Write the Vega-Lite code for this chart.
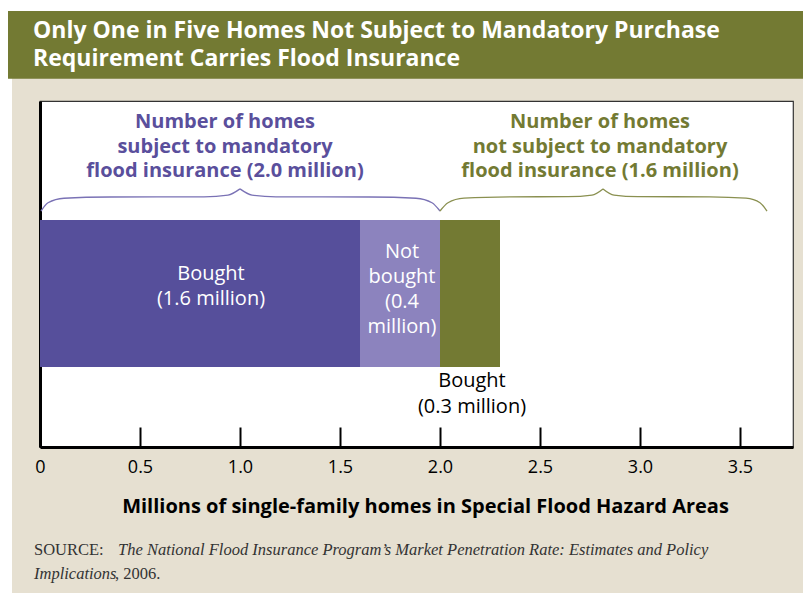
{
  "$schema": "https://vega.github.io/schema/vega-lite/v6.json",
  "width": 753,
  "height": 346,
  "autosize": {"type": "none"},
  "padding": {"left": 40, "top": 101, "right": 10, "bottom": 146},
  "background": "#e6e0d1",
  "config": {
    "view": {"stroke": "#333333", "strokeWidth": 1.2, "fill": "white"},
    "font": "Open Sans",
    "text": {"lineBreak": "\n"},
    "axisX": {"domainColor": "black", "domainWidth": 3, "tickColor": "black", "tickWidth": 2, "tickSize": -20,
      "labelFontSize": 18, "labelColor": "black", "labelPadding": 31, "labelFont": "Open Sans", "labelFlush": false,
      "titleFontSize": 20, "titleFontWeight": "bold", "titleColor": "black", "titlePadding": 20, "titleFont": "Open Sans",
      "titleX": 385, "grid": false, "zindex": 2},
    "axisY": {"labels": false, "ticks": false, "grid": false, "domainColor": "black", "domainWidth": 3, "zindex": 2}
  },
  "layer": [
    {
      "data": {"values": [
        {"part": "top strip", "x0": -0.2, "x1": 3.815, "y0": 126.0, "y1": 129.5},
        {"part": "left strip", "x0": -0.2, "x1": -0.14, "y0": -42.5, "y1": 129.5}
      ]},
      "mark": {"type": "rect", "fill": "white", "clip": false},
      "encoding": {
        "x": {"field": "x0", "type": "quantitative", "scale": {"domain": [0, 3.765], "nice": false, "zero": false},
          "axis": {"title": "Millions of single-family homes in Special Flood Hazard Areas", "values": [0, 0.5, 1, 1.5, 2, 2.5, 3, 3.5],
            "labelExpr": "datum.value == 0 ? '0' : format(datum.value, '.1f')"}},
        "x2": {"field": "x1"},
        "y": {"field": "y0", "type": "quantitative", "scale": {"domain": [0, 100], "nice": false, "zero": false},
          "axis": {"title": null}},
        "y2": {"field": "y1"}
      }
    },
    {
      "data": {"values": [{"x0": -0.16, "x1": 3.815, "y0": 106.4, "y1": 126.0}]},
      "mark": {"type": "rect", "fill": "#737a33", "clip": false},
      "encoding": {
        "x": {"field": "x0", "type": "quantitative"},
        "x2": {"field": "x1"},
        "y": {"field": "y0", "type": "quantitative"},
        "y2": {"field": "y1"}
      }
    },
    {
      "data": {"values": [{"text": "Only One in Five Homes Not Subject to Mandatory Purchase\nRequirement Carries Flood Insurance", "x": -0.035, "y": 120.2}]},
      "mark": {"type": "text", "align": "left", "baseline": "middle", "fill": "white", "fontSize": 23, "fontWeight": "bold", "lineHeight": 27.5, "clip": false},
      "encoding": {
        "x": {"field": "x", "type": "quantitative"},
        "y": {"field": "y", "type": "quantitative"},
        "text": {"field": "text"}
      }
    },
    {
      "data": {"values": [
        {"segment": "Bought (mandatory)", "x0": 0, "x1": 1.6},
        {"segment": "Not bought (mandatory)", "x0": 1.6, "x1": 2.0},
        {"segment": "Bought (not mandatory)", "x0": 2.0, "x1": 2.3}
      ]},
      "mark": {"type": "rect"},
      "encoding": {
        "x": {"field": "x0", "type": "quantitative"},
        "x2": {"field": "x1"},
        "y": {"datum": 65.6, "type": "quantitative"},
        "y2": {"datum": 23.1},
        "color": {"field": "segment", "type": "nominal", "legend": null,
          "scale": {"domain": ["Bought (mandatory)", "Not bought (mandatory)", "Bought (not mandatory)"], "range": ["#564f9b", "#8c83be", "#737a33"]}}
      }
    },
    {
      "data": {"values": [
        {"half": "a", "x": 0.005, "y": 68.2}, {"half": "a", "x": 0.04, "y": 70.6}, {"half": "a", "x": 0.12, "y": 71.9},
        {"half": "a", "x": 0.35, "y": 72.25}, {"half": "a", "x": 0.82, "y": 72.3}, {"half": "a", "x": 0.94, "y": 72.8}, {"half": "a", "x": 1.0, "y": 74.6},
        {"half": "b", "x": 1.0, "y": 74.6}, {"half": "b", "x": 1.06, "y": 72.8}, {"half": "b", "x": 1.18, "y": 72.3},
        {"half": "b", "x": 1.65, "y": 72.25}, {"half": "b", "x": 1.88, "y": 71.9}, {"half": "b", "x": 1.96, "y": 70.6}, {"half": "b", "x": 2.0, "y": 68.2}
      ]},
      "mark": {"type": "line", "interpolate": "monotone", "stroke": "#7a72b5", "strokeWidth": 1.3},
      "encoding": {
        "x": {"field": "x", "type": "quantitative"},
        "y": {"field": "y", "type": "quantitative"},
        "detail": {"field": "half"}
      }
    },
    {
      "data": {"values": [
        {"half": "a", "x": 2.0, "y": 68.2}, {"half": "a", "x": 2.04, "y": 70.6}, {"half": "a", "x": 2.12, "y": 71.9},
        {"half": "a", "x": 2.35, "y": 72.3}, {"half": "a", "x": 2.64, "y": 72.35}, {"half": "a", "x": 2.76, "y": 72.8}, {"half": "a", "x": 2.815, "y": 74.6},
        {"half": "b", "x": 2.815, "y": 74.6}, {"half": "b", "x": 2.87, "y": 72.8}, {"half": "b", "x": 2.99, "y": 72.35},
        {"half": "b", "x": 3.35, "y": 72.3}, {"half": "b", "x": 3.53, "y": 71.9}, {"half": "b", "x": 3.6, "y": 70.6}, {"half": "b", "x": 3.635, "y": 68.2}
      ]},
      "mark": {"type": "line", "interpolate": "monotone", "stroke": "#8a9050", "strokeWidth": 1.3},
      "encoding": {
        "x": {"field": "x", "type": "quantitative"},
        "y": {"field": "y", "type": "quantitative"},
        "detail": {"field": "half"}
      }
    },
    {
      "data": {"values": [{"text": "Number of homes\nsubject to mandatory\nflood insurance (2.0 million)", "x": 0.925, "y": 93.9}]},
      "mark": {"type": "text", "align": "center", "baseline": "middle", "fill": "#5a4f9c", "fontSize": 20, "fontWeight": "bold", "lineHeight": 24.5},
      "encoding": {
        "x": {"field": "x", "type": "quantitative"},
        "y": {"field": "y", "type": "quantitative"},
        "text": {"field": "text"}
      }
    },
    {
      "data": {"values": [{"text": "Number of homes\nnot subject to mandatory\nflood insurance (1.6 million)", "x": 2.8, "y": 93.9}]},
      "mark": {"type": "text", "align": "center", "baseline": "middle", "fill": "#737a33", "fontSize": 20, "fontWeight": "bold", "lineHeight": 24.5},
      "encoding": {
        "x": {"field": "x", "type": "quantitative"},
        "y": {"field": "y", "type": "quantitative"},
        "text": {"field": "text"}
      }
    },
    {
      "data": {"values": [
        {"text": "Bought\n(1.6 million)", "x": 0.855, "y": 50.0},
        {"text": "Not\nbought\n(0.4\nmillion)", "x": 1.81, "y": 56.4}
      ]},
      "mark": {"type": "text", "align": "center", "baseline": "middle", "fill": "white", "fontSize": 20, "lineHeight": 25},
      "encoding": {
        "x": {"field": "x", "type": "quantitative"},
        "y": {"field": "y", "type": "quantitative"},
        "text": {"field": "text"}
      }
    },
    {
      "data": {"values": [{"text": "Bought\n(0.3 million)", "x": 2.16, "y": 19.1}]},
      "mark": {"type": "text", "align": "center", "baseline": "middle", "fill": "black", "fontSize": 20, "lineHeight": 26},
      "encoding": {
        "x": {"field": "x", "type": "quantitative"},
        "y": {"field": "y", "type": "quantitative"},
        "text": {"field": "text"}
      }
    },
    {
      "data": {"values": [
        {"text": "SOURCE:", "x": -0.03, "y": -29.8},
        {"text": ", 2006.", "x": 0.375, "y": -36.7}
      ]},
      "mark": {"type": "text", "align": "left", "baseline": "middle", "fill": "#333333", "font": "Liberation Serif", "fontSize": 16.5, "clip": false},
      "encoding": {
        "x": {"field": "x", "type": "quantitative"},
        "y": {"field": "y", "type": "quantitative"},
        "text": {"field": "text"}
      }
    },
    {
      "data": {"values": [
        {"text": "The National Flood Insurance Program’s Market Penetration Rate: Estimates and Policy", "x": 0.39, "y": -29.8},
        {"text": "Implications", "x": -0.03, "y": -36.7}
      ]},
      "mark": {"type": "text", "align": "left", "baseline": "middle", "fill": "#333333", "font": "Liberation Serif", "fontStyle": "italic", "fontSize": 16.5, "clip": false},
      "encoding": {
        "x": {"field": "x", "type": "quantitative"},
        "y": {"field": "y", "type": "quantitative"},
        "text": {"field": "text"}
      }
    }
  ]
}
